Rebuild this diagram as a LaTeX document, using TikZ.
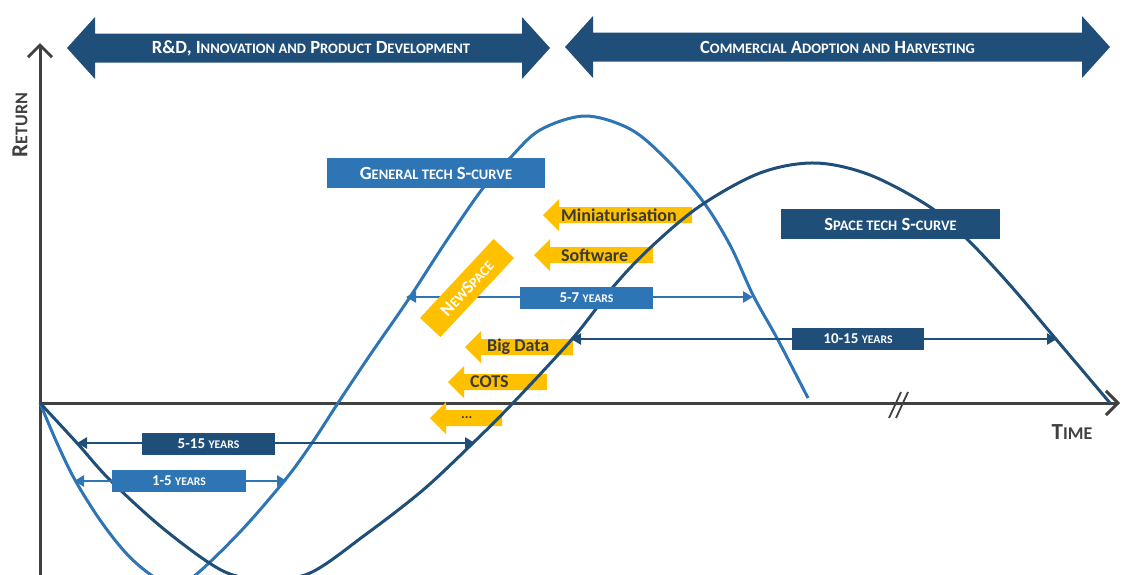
\documentclass[tikz,border=0pt]{standalone}
\usepackage{fontspec}
\setmainfont{Carlito}
\usetikzlibrary{arrows.meta}
\definecolor{lb}{HTML}{2E75B6}
\definecolor{db}{HTML}{1F4E79}
\definecolor{og}{HTML}{FFC000}
\definecolor{ax}{HTML}{404040}
\definecolor{otx}{HTML}{3A3A3A}
\makeatletter
\newcommand\sk[1]{{\fontsize{\the\dimexpr 0.78\dimexpr\f@size pt\relax\relax}{1pt}\selectfont #1}}
\makeatother
\newcommand\fsz[1]{\fontsize{#1}{#1}\selectfont}
\begin{document}
\begin{tikzpicture}[x=1pt,y=-1pt,
  axis/.style={draw=ax,line width=3pt,-{Straight Barb[length=12pt,width=24pt,line width=3pt]}},
  curve/.style={line width=3pt},
  dimarrow/.style={line width=2.5pt,{Triangle[length=10pt,width=11pt]}-{Triangle[length=10pt,width=11pt]}},
  dimbox/.style={inner sep=0pt,minimum height=22pt,text=white,font=\bfseries\fsz{15}},
  namebox/.style={inner sep=0pt,minimum height=30pt,text=white,font=\bfseries\fsz{18.6}},
  banner/.style={inner sep=0pt,text=white,font=\bfseries\fsz{18.6}},
  otext/.style={inner sep=0pt,anchor=west,text=otx,font=\bfseries\fsz{18}},
  axlabel/.style={inner sep=0pt,text=ax,font=\bfseries\fsz{23}},
]
\useasboundingbox (0,0) rectangle (1122,574);

% ---------- top banners ----------
\newcommand\banarrow[3]{%
  \fill[db] (#1,#3) -- (#1+28,#3-31) -- (#1+28,#3-14.5) -- (#2-28,#3-14.5) -- (#2-28,#3-31)
    -- (#2,#3) -- (#2-28,#3+31) -- (#2-28,#3+14.5) -- (#1+28,#3+14.5) -- (#1+28,#3+31) -- cycle;}
\banarrow{67}{550}{48}
\node[banner] (rd) at (311,48) {R\&D, I\sk{NNOVATION AND} P\sk{RODUCT} D\sk{EVELOPMENT}};
\banarrow{565}{1110}{47}
\node[banner] (ca) at (837.5,47) {C\sk{OMMERCIAL} A\sk{DOPTION AND} H\sk{ARVESTING}};

% ---------- axes ----------
\coordinate (o) at (40,403);
\coordinate (ybot) at (40,576);
\coordinate (ytop) at (40,43);
\coordinate (xend) at (1120,403);
\draw[axis] (ybot) -- (ytop);
\draw[axis] (o) -- (xend);
\draw[ax,line width=1.8pt] (889,418) -- (901,392) (896,418) -- (908,392);
\node[axlabel,rotate=90] (ret) at (20,125) {R\sk{ETURN}};
\node[axlabel] (time) at (1072,432) {T\sk{IME}};

% ---------- orange driver arrows ----------
\newcommand\oarrow[6]{% tip x, y, right x, name, text x, text
  \fill[og] (#1,#2) -- (#1+16,#2-16) -- (#1+16,#2-8) -- (#3,#2-8) -- (#3,#2+8)
    -- (#1+16,#2+8) -- (#1+16,#2+16) -- cycle;
  \node[otext] (#4) at (#5,#2) {#6};}
\oarrow{543}{215}{692}{mini}{561}{Miniaturisation}
\oarrow{534}{255}{653}{soft}{561}{Software}
\oarrow{465}{347}{573}{bigd}{487}{Big Data}
\oarrow{448}{382}{547}{cots}{470}{COTS}
\oarrow{430}{418}{502}{etc}{461}{\fsz{14}...}

% ---------- curves ----------
\draw[curve,lb] plot[smooth,tension=0.55] coordinates {
 (40,403) (57,443) (75,480) (100,520) (125,552) (147,572) (170,585) (193,577)
 (240,532) (285,480) (312,443) (338,403) (370,355) (408,300) (445,243) (483,188)
 (510,158) (540,130) (585,116) (630,129) (665,158) (702,200) (730,245) (753,295)
 (778,340) (808,398)};
\draw[curve,db] plot[smooth,tension=0.55] coordinates {
 (40,403) (77,443) (110,480) (165,530) (223,571) (265,579) (310,573) (365,535)
 (423,490) (473,443) (513,403) (573,338) (613,287) (650,248) (700,206) (760,173)
 (815,163) (870,175) (930,207) (968,240) (1010,285) (1055,338) (1110,403)};

% ---------- duration arrows ----------
\coordinate (a57l) at (406,297);
\coordinate (a57r) at (753,297);
\coordinate (a1015l) at (571,339);
\coordinate (a1015r) at (1057,339);
\coordinate (a515l) at (77,443);
\coordinate (a515r) at (475,443);
\coordinate (a15l) at (74,481);
\coordinate (a15r) at (287,481);
\draw[dimarrow,lb] (a57l) -- (a57r);
\draw[dimarrow,db] (a1015l) -- (a1015r);
\draw[dimarrow,db] (a515l) -- (a515r);
\draw[dimarrow,lb] (a15l) -- (a15r);
\node[dimbox,fill=lb,minimum width=133pt] (b57) at (586.5,298) {5-7 \sk{YEARS}};
\node[dimbox,fill=db,minimum width=132pt] (b1015) at (858,338.5) {10-15 \sk{YEARS}};
\node[dimbox,fill=db,minimum width=133pt] (b515) at (208.5,443.5) {5-15 \sk{YEARS}};
\node[dimbox,fill=lb,minimum width=134pt] (b15) at (179,481) {1-5 \sk{YEARS}};

% ---------- curve name boxes ----------
\node[namebox,fill=lb,minimum width=218pt] (gen) at (436,173) {G\sk{ENERAL TECH} S-\sk{CURVE}};
\node[namebox,fill=db,minimum width=219pt] (spc) at (890.5,224) {S\sk{PACE TECH} S-\sk{CURVE}};

% ---------- NewSpace ----------
\node[fill=og,rotate=47,minimum width=108pt,minimum height=28pt,inner sep=0pt,
      text=white,font=\bfseries\fsz{18}] (ns) at (467,288) {N\sk{EW}S\sk{PACE}};
\end{tikzpicture}
\end{document}
